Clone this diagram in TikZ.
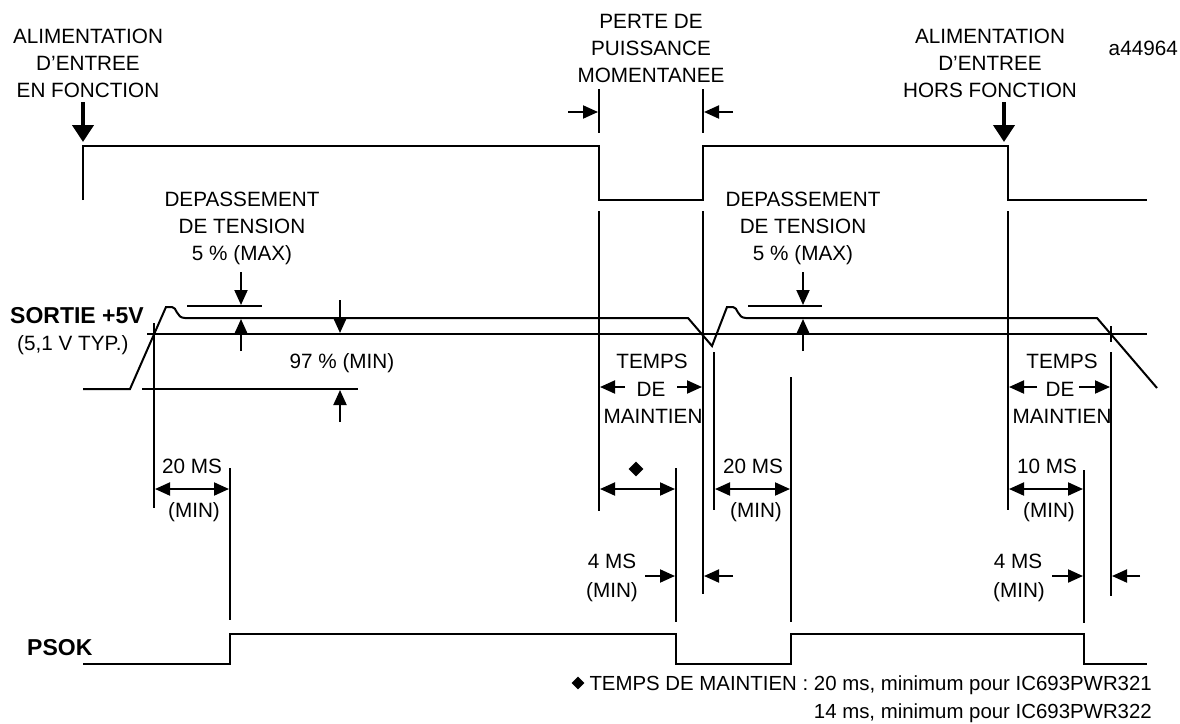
\documentclass[tikz,border=0pt]{standalone}
\usepackage{fontspec}
\setmainfont{Liberation Sans}
\usetikzlibrary{arrows.meta,shapes.geometric}
\tikzset{
  sig/.style={line width=2pt},
  guide/.style={line width=2pt},
  tipa/.style={-{Triangle[length=15pt,width=13pt]}, line width=2pt},
  dtip/.style={{Triangle[length=15pt,width=13pt]}-{Triangle[length=15pt,width=13pt]}, line width=2pt},
  bigarrow/.style={-{Triangle[length=17pt,width=21pt]}, line width=4pt},
  lbl/.style={font=\fontsize{20.7}{27}\selectfont, align=center, inner sep=0pt, anchor=base},
  blbl/.style={font=\fontsize{23}{27}\selectfont\bfseries, inner sep=0pt, anchor=base west},
  notelbl/.style={font=\fontsize{20.4}{27}\selectfont, inner sep=0pt, anchor=base east},
  gem/.style={diamond, fill=black, inner sep=0pt, minimum size=#1},
}
\begin{document}
\begin{tikzpicture}[x=1pt,y=-1pt]
\useasboundingbox (0,0) rectangle (1180,723);

% ---- input power signal ----
\draw[sig] (83,200) -- (83,146) -- (599,146) -- (599,200) -- (703,200) -- (703,146) -- (1008,146) -- (1008,200) -- (1147,200);
\draw[bigarrow] (83,102) -- (83,142);
\draw[bigarrow] (1004,102) -- (1004,142);
\node[lbl] (alimon) at (88,97) {ALIMENTATION\\D’ENTREE\\EN FONCTION};
\node[lbl] (alimoff) at (990,97) {ALIMENTATION\\D’ENTREE\\HORS FONCTION};
\node[lbl, anchor=base east] (ref) at (1178,55) {a44964};
\node[lbl] (perte) at (651,82) {PERTE DE\\PUISSANCE\\MOMENTANEE};
\draw[guide] (599,89) -- (599,133);
\draw[guide] (703,89) -- (703,133);
\draw[tipa] (568,112) -- (598,112);
\draw[tipa] (733,112) -- (704,112);

% ---- +5V output ----
\draw[sig] (83,389) -- (130,389) -- (166,307) -- (172,307) .. controls (177,307) and (176,318) .. (185,318) -- (688,318) -- (712,346) -- (727,307) -- (733,307) .. controls (738,307) and (737,318) .. (746,318) -- (1097,318) -- (1157,388);
\draw[guide] (147,334) -- (1147,334);
\draw[guide] (142,389) -- (358,389);
\draw[guide] (1111,326) -- (1111,342);
\node[blbl] (sortie) at (10,323) {SORTIE +5V};
\node[lbl, anchor=base west] (typ) at (17,350) {(5,1 V TYP.)};

% overshoot markers
\node[lbl] (dep1) at (242,260) {DEPASSEMENT\\DE TENSION\\5 \% (MAX)};
\draw[guide] (187,306) -- (262,306);
\draw[tipa] (241,272) -- (241,305);
\draw[tipa] (241,351) -- (241,319);
\node[lbl] (dep2) at (803,260) {DEPASSEMENT\\DE TENSION\\5 \% (MAX)};
\draw[guide] (748,306) -- (822,306);
\draw[tipa] (803,272) -- (803,305);
\draw[tipa] (803,351) -- (803,319);

% 97 %
\draw[tipa] (340,300) -- (340,333);
\draw[tipa] (340,422) -- (340,390);
\node[lbl] (pct) at (342,368) {97 \% (MIN)};

% ---- vertical guides ----
\draw[guide] (154,323) -- (154,508);
\draw[guide] (230,468) -- (230,620);
\draw[guide] (599,211) -- (599,511);
\draw[guide] (676,468) -- (676,622);
\draw[guide] (703,211) -- (703,594);
\draw[guide] (714,352) -- (714,510);
\draw[guide] (791,377) -- (791,622);
\draw[guide] (1008,211) -- (1008,510);
\draw[guide] (1084,470) -- (1084,623);
\draw[guide] (1111,352) -- (1111,596);

% temps de maintien
\node[lbl] (tm1a) at (652,368) {TEMPS};
\node[lbl] (tm1b) at (651,396) {DE};
\node[lbl] (tm1c) at (653,423) {MAINTIEN};
\draw[tipa] (625,387) -- (600,387);
\draw[tipa] (677,387) -- (702,387);
\node[lbl] (tm2a) at (1062,368) {TEMPS};
\node[lbl] (tm2b) at (1060,396) {DE};
\node[lbl] (tm2c) at (1062,423) {MAINTIEN};
\draw[tipa] (1037,387) -- (1009,387);
\draw[tipa] (1079,387) -- (1110,387);

% durations
\draw[dtip] (155,489) -- (229,489);
\node[lbl] (d1a) at (192,473) {20 MS};
\node[lbl] (d1b) at (194,517) {(MIN)};
\draw[dtip] (600,489) -- (675,489);
\node[gem=15pt] (g1) at (636,469) {};
\draw[dtip] (715,489) -- (790,489);
\node[lbl] (d2a) at (753,473) {20 MS};
\node[lbl] (d2b) at (756,517) {(MIN)};
\draw[dtip] (1009,489) -- (1083,489);
\node[lbl] (d3a) at (1047,473) {10 MS};
\node[lbl] (d3b) at (1049,517) {(MIN)};

\node[lbl] (f1a) at (612,568) {4 MS};
\node[lbl] (f1b) at (612,597) {(MIN)};
\draw[tipa] (645,576) -- (675,576);
\draw[tipa] (733,576) -- (704,576);
\node[lbl] (f2a) at (1018,568) {4 MS};
\node[lbl] (f2b) at (1019,597) {(MIN)};
\draw[tipa] (1052,576) -- (1083,576);
\draw[tipa] (1140,576) -- (1112,576);

% ---- PSOK ----
\node[blbl] (psok) at (27,655) {PSOK};
\draw[sig] (83,664) -- (230,664) -- (230,634) -- (676,634) -- (676,664) -- (791,664) -- (791,634) -- (1084,634) -- (1084,664) -- (1147,664);

% ---- footnote ----
\node[gem=13pt] (g2) at (578,683) {};
\node[notelbl] (note1) at (1152,690) {TEMPS DE MAINTIEN : 20 ms, minimum pour IC693PWR321};
\node[notelbl] (note2) at (1152,718) {14 ms, minimum pour IC693PWR322};
\end{tikzpicture}
\end{document}
